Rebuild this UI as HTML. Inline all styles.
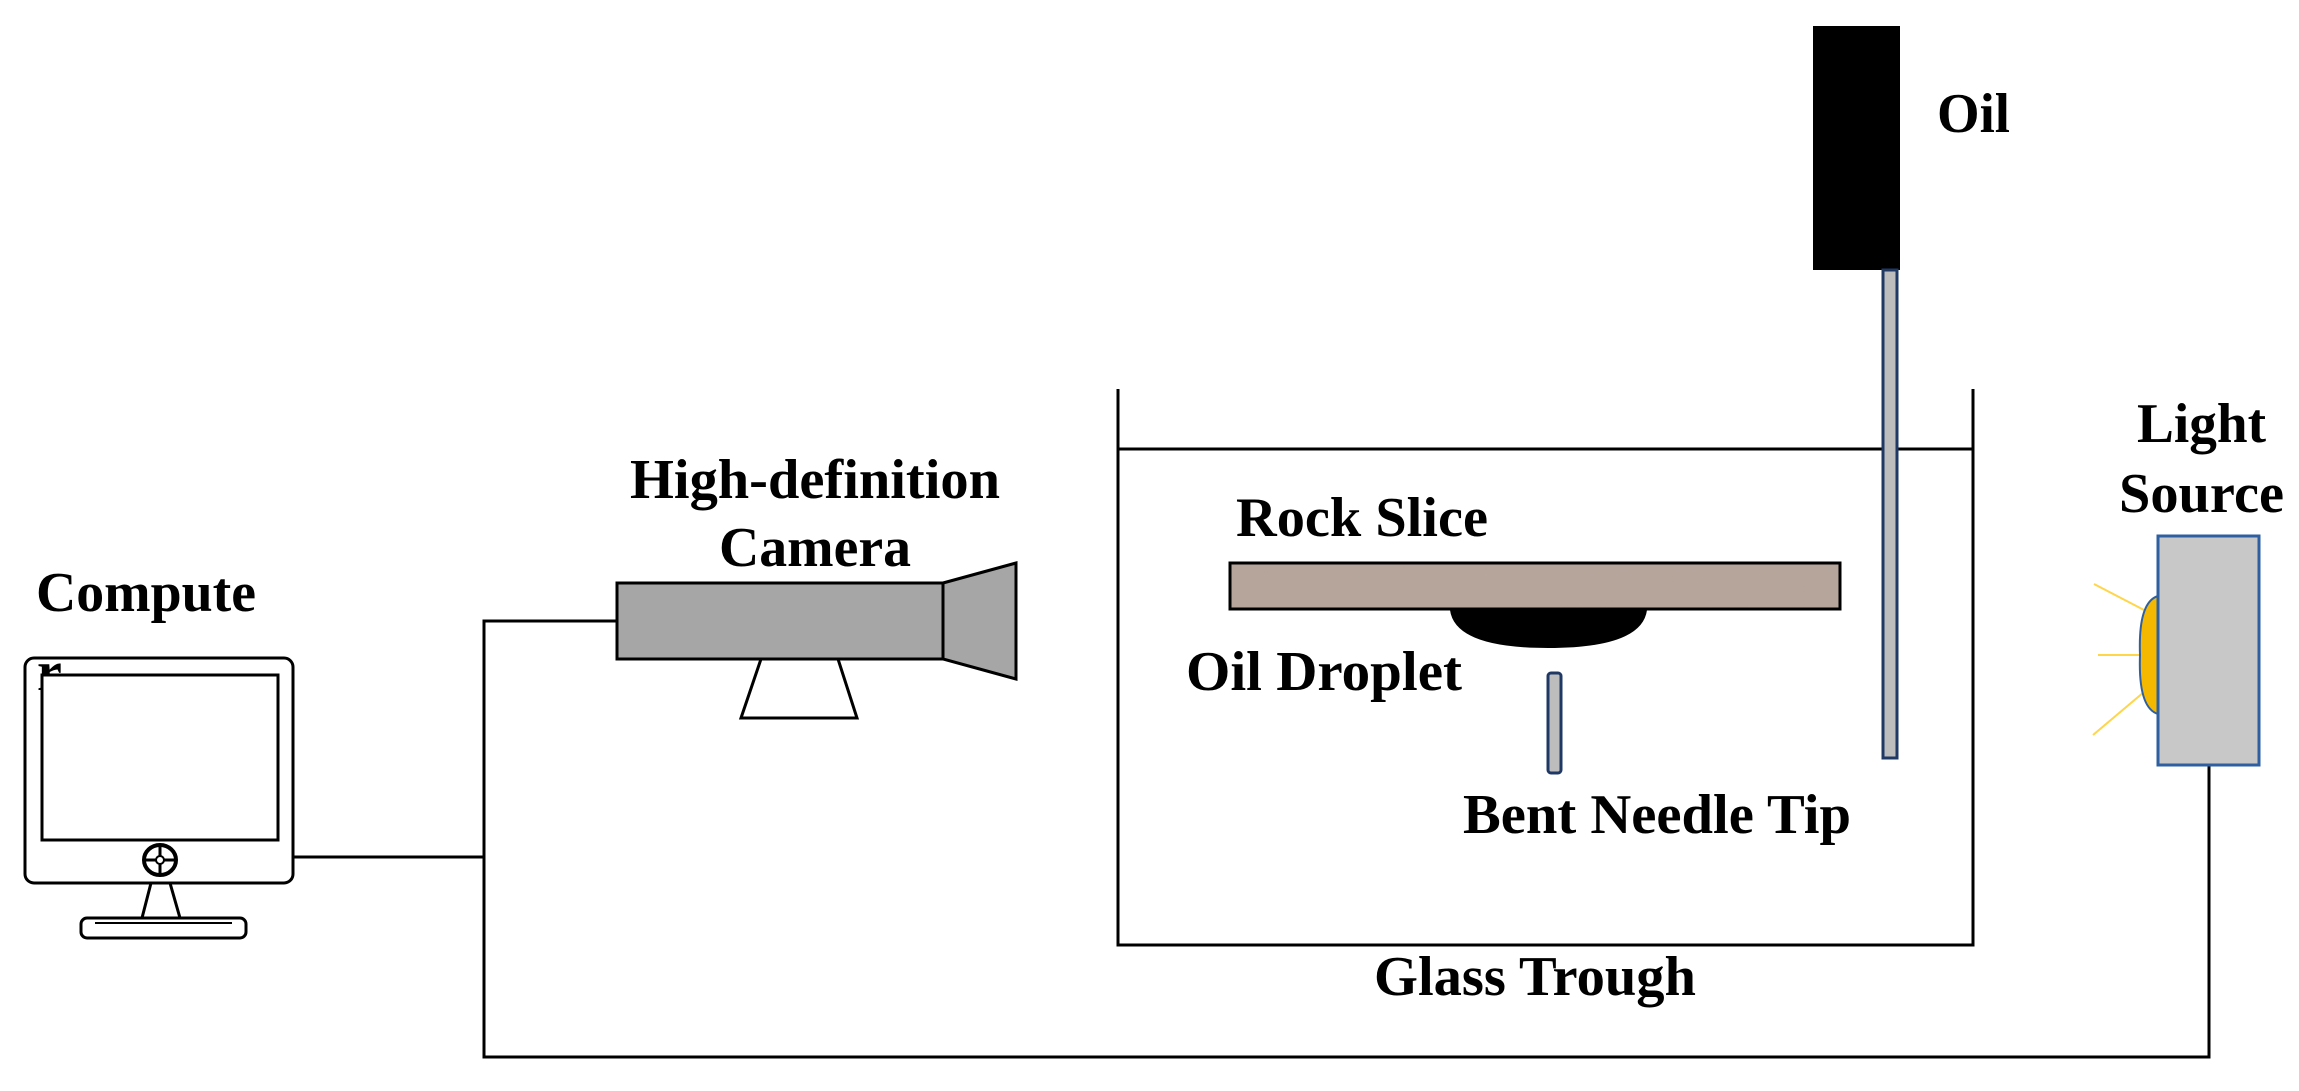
<!DOCTYPE html>
<html><head><meta charset="utf-8"><style>html,body{margin:0;padding:0;background:#fff}svg{display:block}</style></head>
<body>
<svg width="2299" height="1091" viewBox="0 0 2299 1091" xmlns="http://www.w3.org/2000/svg" font-family="'Liberation Serif', serif" font-weight="bold" font-size="56">
<defs>
<filter id="n" x="0" y="0" width="100%" height="100%">
<feTurbulence type="fractalNoise" baseFrequency="0.35" numOctaves="2" seed="3"/>
<feColorMatrix type="matrix" values="0 0 0 0 0.45  0 0 0 0 0.38  0 0 0 0 0.34  1.6 0 0 0 -0.75"/>
<feComposite in2="SourceGraphic" operator="in"/>
</filter>
</defs>
<g fill="none" stroke="#000" stroke-width="3">
<!-- wires -->
<polyline points="293,857 484,857"/>
<polyline points="617,621 484,621 484,1057 2209,1057 2209,765"/>
<!-- trough -->
<polyline points="1118,389 1118,945 1973,945 1973,389"/>
<line x1="1118" y1="449" x2="1973" y2="449"/>
</g>
<!-- monitor -->
<text x="36" y="611" textLength="220" lengthAdjust="spacingAndGlyphs">Compute</text>
<text x="37" y="690">r</text>
<rect x="25" y="658" width="268" height="225" rx="9" fill="none" stroke="#000" stroke-width="3"/>
<rect x="42" y="675" width="236" height="165" fill="#fff" stroke="#000" stroke-width="3"/>
<ellipse cx="160" cy="860" rx="16" ry="15" fill="none" stroke="#000" stroke-width="4"/>
<line x1="160" y1="846" x2="160" y2="874" stroke="#000" stroke-width="3"/>
<line x1="145" y1="860" x2="175" y2="860" stroke="#000" stroke-width="3"/>
<circle cx="160" cy="860" r="4" fill="#fff" stroke="#000" stroke-width="2"/>
<polygon points="151,883 170,883 180,918 142,918" fill="#fff" stroke="#000" stroke-width="3"/>
<rect x="81" y="918" width="165" height="20" rx="6" fill="#fff" stroke="#000" stroke-width="3"/>
<line x1="95" y1="923" x2="232" y2="923" stroke="#000" stroke-width="2"/>
<!-- camera -->
<text x="630" y="498" textLength="370" lengthAdjust="spacingAndGlyphs">High-definition</text>
<text x="719" y="566" textLength="192" lengthAdjust="spacingAndGlyphs">Camera</text>
<rect x="617" y="583" width="326" height="76" fill="#a6a6a6" stroke="#000" stroke-width="3"/>
<polygon points="943,583 1016,563 1016,679 943,659" fill="#a6a6a6" stroke="#000" stroke-width="3"/>
<polygon points="761,659 838,659 857,718 741,718" fill="#fff" stroke="#000" stroke-width="3"/>
<!-- oil -->
<rect x="1813" y="26" width="87" height="244" fill="#000"/>
<text x="1937" y="132" textLength="73" lengthAdjust="spacingAndGlyphs">Oil</text>
<rect x="1883" y="270" width="14" height="488" fill="#bdbdbd" stroke="#1f3864" stroke-width="3"/>
<!-- rock slice -->
<text x="1236" y="536" textLength="252" lengthAdjust="spacingAndGlyphs">Rock Slice</text>
<rect x="1230" y="563" width="610" height="46" fill="#b6a59a"/>
<rect x="1230" y="563" width="610" height="46" fill="#b6a59a" filter="url(#n)"/>
<rect x="1230" y="563" width="610" height="46" fill="none" stroke="#000" stroke-width="3"/>
<path d="M1450,610 Q1455,648 1548,648 Q1642,648 1647,610 Z" fill="#000"/>
<text x="1186" y="690" textLength="276" lengthAdjust="spacingAndGlyphs">Oil Droplet</text>
<rect x="1548" y="673" width="13" height="100" rx="3" fill="#bdbdbd" stroke="#1f3864" stroke-width="3"/>
<text x="1463" y="833" textLength="388" lengthAdjust="spacingAndGlyphs">Bent Needle Tip</text>
<text x="1374" y="995" textLength="322" lengthAdjust="spacingAndGlyphs">Glass Trough</text>
<!-- light -->
<text x="2137" y="442" textLength="129" lengthAdjust="spacingAndGlyphs">Light</text>
<text x="2119" y="512" textLength="165" lengthAdjust="spacingAndGlyphs">Source</text>
<g stroke="#ffd54a" stroke-width="2">
<line x1="2094" y1="584" x2="2144" y2="610"/>
<line x1="2098" y1="655" x2="2141" y2="655"/>
<line x1="2093" y1="735" x2="2144" y2="692"/>
</g>
<path d="M2158,596 Q2138,602 2140,655 Q2138,708 2158,714 Z" fill="#f5b800" stroke="#2e5fa0" stroke-width="2"/>
<rect x="2158" y="536" width="101" height="229" fill="#c8c8c8" stroke="#2e5fa0" stroke-width="3"/>
</svg>
</body></html>
